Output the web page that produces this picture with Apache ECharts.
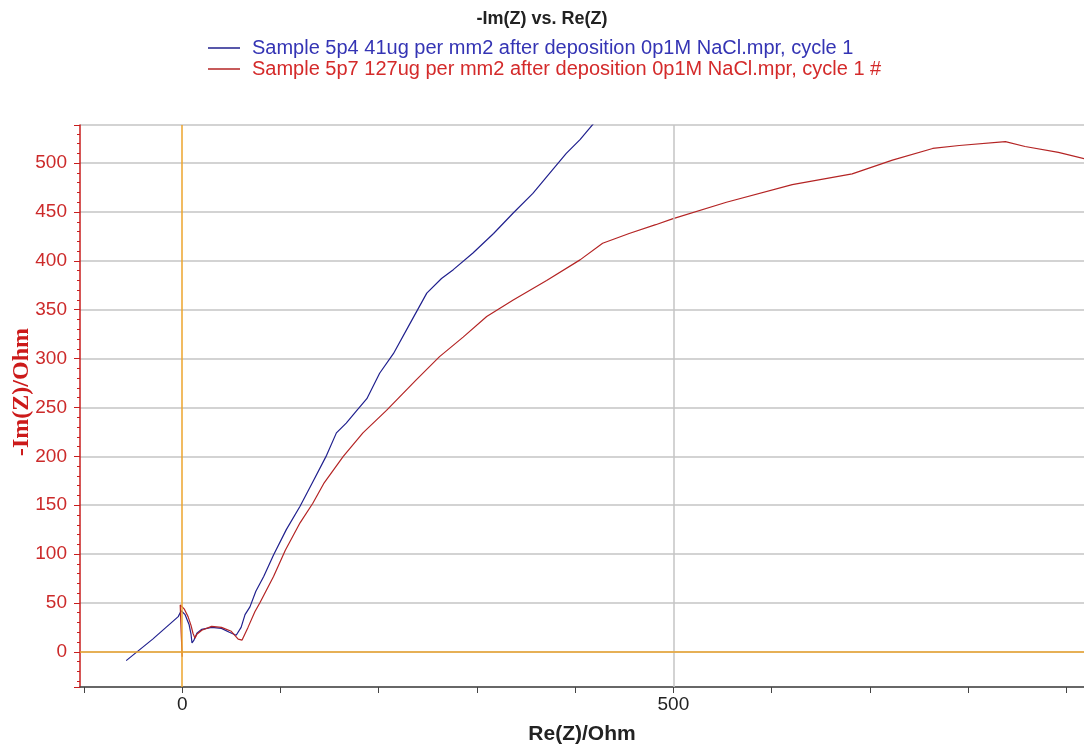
<!DOCTYPE html>
<html>
<head>
<meta charset="utf-8">
<title>-Im(Z) vs. Re(Z)</title>
<script src="https://cdn.jsdelivr.net/npm/echarts@6.0.0/dist/echarts.min.js"></script>
<style>
    html, body { margin: 0; padding: 0; background: #fff; }
    #main { width: 1084px; height: 749px; }
</style>
</head>
<body>
<div id="main"></div>
<script>
    // Sample 5p4 (blue)
    var blueRe = [-57, -30, -4, -1, 3, 7, 9, 10, 12, 15, 20, 30, 40, 48, 55, 60, 64, 69, 75, 83, 93, 106, 120, 132, 147, 157, 167, 177, 188, 201, 215, 232, 249, 264, 276, 296, 317, 337, 357, 371, 391, 405, 420];
    var blueIm = [-9, 13, 36, 42, 38, 28, 18, 9, 12, 19, 23, 25, 24, 20, 17, 25, 38, 46, 62, 77, 99, 125, 149, 172, 201, 224, 234, 246, 259, 285, 305, 336, 367, 382, 391, 408, 428, 449, 469, 486, 510, 524, 542];
    // Sample 5p7 (red)
    var redRe = [0, -1, -2, 2, 6, 9, 11, 13, 15, 20, 30, 40, 50, 57, 61, 67, 74, 79, 93, 105, 120, 133, 144, 164, 184, 208, 238, 262, 286, 310, 337, 371, 405, 428, 455, 482, 499, 554, 621, 682, 723, 764, 791, 838, 858, 892, 920];
    var redIm = [-5, 20, 48, 44, 36, 27, 19, 14, 18, 22, 26, 25, 21, 13, 12, 25, 41, 50, 77, 104, 132, 152, 172, 200, 224, 247, 278, 302, 322, 343, 360, 380, 401, 418, 428, 437, 443, 460, 478, 489, 503, 515, 518, 522, 517, 511, 504];

    var seriesNames = [
        'Sample 5p4 41ug per mm2 after deposition 0p1M NaCl.mpr, cycle 1',
        'Sample 5p7 127ug per mm2 after deposition 0p1M NaCl.mpr, cycle 1 #'
    ];
    var xLabels = [0, 500];

    function zip(a, b) {
        var out = [];
        for (var i = 0; i < a.length; i++) out.push([a[i], b[i]]);
        return out;
    }

    var font = "'Liberation Sans', Arial, sans-serif";
    var myChart = echarts.init(document.getElementById('main'));

    var option = {
        backgroundColor: '#fff',
        animation: false,
        title: {
            text: '-Im(Z) vs. Re(Z)',
            left: 'center',
            top: 5,
            textStyle: { fontSize: 18, fontWeight: 'bold', color: '#222', fontFamily: font }
        },
        legend: {
            orient: 'vertical',
            left: 203,
            top: 33,
            icon: 'rect',
            itemWidth: 32,
            itemHeight: 1.5,
            itemGap: 1,
            textStyle: { fontSize: 20, fontFamily: font, padding: [0, 0, 0, 7] },
            data: [
                { name: seriesNames[0], textStyle: { color: '#3434b4' } },
                { name: seriesNames[1], textStyle: { color: '#d42a2a' } }
            ]
        },
        grid: { left: 80, right: 0, top: 125, bottom: 62, outerBoundsMode: 'none' },
        xAxis: {
            type: 'value',
            min: -104,
            max: 918,
            splitNumber: 10,
            name: 'Re(Z)/Ohm',
            nameLocation: 'middle',
            nameGap: 37,
            nameTextStyle: { fontSize: 21, fontWeight: 'bold', color: '#222', fontFamily: font },
            axisLine: { onZero: false, lineStyle: { color: '#444', width: 1.5 } },
            axisTick: { show: true, length: 6, lineStyle: { color: '#444' } },
            axisLabel: {
                margin: 8, fontSize: 19, color: '#222', fontFamily: font,
                showMinLabel: false, showMaxLabel: false,
                formatter: function (v) { return xLabels.indexOf(v) >= 0 ? String(v) : ''; }
            },
            splitLine: { show: false }
        },
        yAxis: {
            type: 'value',
            min: -36,
            max: 539,
            splitNumber: 11,
            name: '-Im(Z)/Ohm',
            nameLocation: 'middle',
            nameGap: 46,
            nameMoveOverlap: false,
            nameTextStyle: { fontSize: 24, fontWeight: 'bold', color: '#cc1a1a', fontFamily: "'Liberation Serif', 'Times New Roman', serif", padding: [0, 0, 0, 28] },
            axisLine: { onZero: false, lineStyle: { color: '#c81e1e', width: 1.5 } },
            axisTick: { show: true, length: 6, lineStyle: { color: '#c81e1e' } },
            minorTick: { show: true, splitNumber: 5, length: 3, lineStyle: { color: '#c81e1e' } },
            axisLabel: { margin: 13, fontSize: 19, color: '#cc2a2a', fontFamily: font, showMinLabel: false, showMaxLabel: false },
            splitLine: { show: true, lineStyle: { color: '#c4c4c4', width: 1.5 } }
        },
        series: [
            {
                name: 'axes',
                type: 'line',
                data: [],
                z: 1,
                silent: true,
                markLine: {
                    symbol: 'none',
                    silent: true,
                    label: { show: false },
                    animation: false,
                    data: [
                        { xAxis: 0, lineStyle: { color: '#eca42c', width: 1.5, type: 'solid' } },
                        { xAxis: 500, lineStyle: { color: '#c4c4c4', width: 1.5, type: 'solid' } },
                        { yAxis: 0, lineStyle: { color: '#eca42c', width: 1.5, type: 'solid' } }
                    ]
                }
            },
            {
                name: seriesNames[0],
                type: 'line',
                symbol: 'none',
                z: 3,
                itemStyle: { color: '#20208e' },
                lineStyle: { color: '#20208e', width: 1.2 },
                data: zip(blueRe, blueIm)
            },
            {
                name: seriesNames[1],
                type: 'line',
                symbol: 'none',
                z: 3,
                itemStyle: { color: '#b42424' },
                lineStyle: { color: '#b42424', width: 1.2 },
                data: zip(redRe, redIm)
            }
        ]
    };
    myChart.setOption(option);
</script>
</body>
</html>
